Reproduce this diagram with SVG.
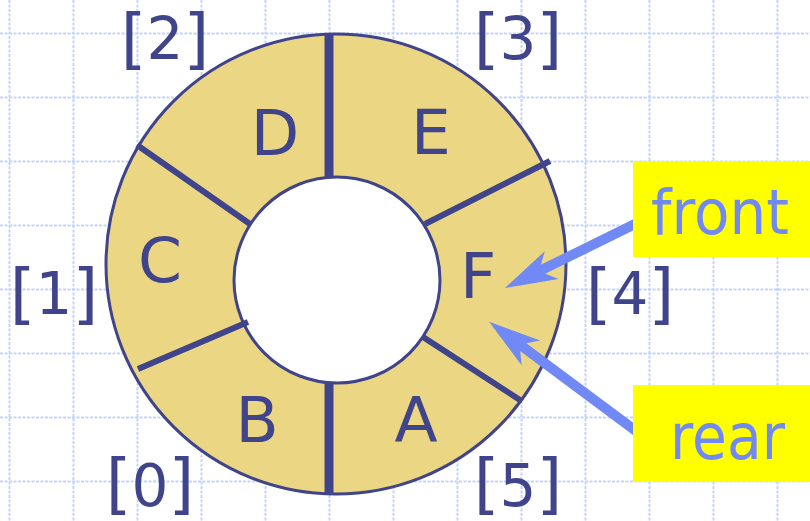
<svg xmlns="http://www.w3.org/2000/svg" width="810" height="521" viewBox="0 0 810 521">
  <defs>
    <style>
      .grid{fill:none;stroke:#c6d3fb;stroke-width:2;stroke-dasharray:3 1.5}
      .ring{fill:#ebd683;stroke:#40448a;stroke-width:3}
      .hole{fill:#ffffff;stroke:#40448a;stroke-width:3}
      .div{stroke:#40448a;stroke-width:6;stroke-linecap:butt}
      .divv{stroke:#40448a;stroke-width:9;stroke-linecap:butt}
      .cell{font-family:"DejaVu Sans","Verdana",sans-serif;font-size:63px;fill:#40448a;text-anchor:middle}
      .idx{font-family:"DejaVu Sans","Verdana",sans-serif;font-size:58px;fill:#40448a;text-anchor:middle}
      .br{font-size:66px}
      .box{fill:#ffff00}
      .ptr{font-family:"DejaVu Sans","Verdana",sans-serif;fill:#7089f5}
      .arrow{stroke:#7089f5;stroke-width:10;fill:none;marker-end:url(#head)}
    </style>
    <marker id="head" viewBox="-17 -16 54 32" markerWidth="54" markerHeight="32" refX="0" refY="0" orient="auto" markerUnits="userSpaceOnUse">
      <path d="M36,0 L-16,-15.5 L-2,0 L-16,15.5 Z" fill="#7089f5"/>
    </marker>
  </defs>

  <rect width="810" height="521" fill="#ffffff"/>
  <path class="grid" d="M9.5,0V521M73.5,0V521M137.5,0V521M201.5,0V521M265.5,0V521M329.5,0V521M393.5,0V521M457.5,0V521M521.5,0V521M585.5,0V521M649.5,0V521M713.5,0V521M777.5,0V521M0,33.5H810M0,97.5H810M0,161.5H810M0,225.5H810M0,289.5H810M0,353.5H810M0,417.5H810M0,481.5H810"/>

  <g id="ring">
    <circle class="ring" cx="336" cy="264" r="230"/>
    <circle class="hole" cx="337" cy="280" r="103"/>
    <line class="divv" x1="329" y1="34" x2="329" y2="178"/>
    <line class="divv" x1="329" y1="382" x2="329" y2="494"/>
    <line class="div" x1="137" y1="145" x2="250" y2="224"/>
    <line class="div" x1="138" y1="369" x2="248" y2="322"/>
    <line class="div" x1="550" y1="161" x2="425" y2="224"/>
    <line class="div" x1="520" y1="400" x2="423" y2="337"/>
  </g>

  <g id="cell-D"><text class="cell" x="275" y="155">D</text></g>
  <g id="cell-E"><text class="cell" x="431" y="154">E</text></g>
  <g id="cell-C"><text class="cell" x="160" y="282">C</text></g>
  <g id="cell-F"><text class="cell" x="478" y="298">F</text></g>
  <g id="cell-B"><text class="cell" x="257" y="442">B</text></g>
  <g id="cell-A"><text class="cell" x="416" y="442">A</text></g>

  <g id="index-2"><text class="idx" x="165" y="59"><tspan class="br" dy="2">[</tspan><tspan dy="-2">2</tspan><tspan class="br" dy="2">]</tspan></text></g>
  <g id="index-3"><text class="idx" x="518" y="59"><tspan class="br" dy="2">[</tspan><tspan dy="-2">3</tspan><tspan class="br" dy="2">]</tspan></text></g>
  <g id="index-1"><text class="idx" x="54" y="314"><tspan class="br" dy="2">[</tspan><tspan dy="-2">1</tspan><tspan class="br" dy="2">]</tspan></text></g>
  <g id="index-4"><text class="idx" x="630" y="314"><tspan class="br" dy="2">[</tspan><tspan dy="-2">4</tspan><tspan class="br" dy="2">]</tspan></text></g>
  <g id="index-0"><text class="idx" x="150" y="506"><tspan class="br">[</tspan><tspan>0</tspan><tspan class="br">]</tspan></text></g>
  <g id="index-5"><text class="idx" x="518" y="506"><tspan class="br">[</tspan><tspan>5</tspan><tspan class="br">]</tspan></text></g>

  <g id="connectors">
    <line class="arrow" x1="640" y1="221.6" x2="537.3" y2="272.1"/>
    <line class="arrow" x1="638" y1="432.4" x2="518" y2="343.3"/>
  </g>

  <g id="front">
    <rect class="box" x="633" y="161" width="177" height="96"/>
    <text class="ptr" x="651" y="234" font-size="62" textLength="138" lengthAdjust="spacingAndGlyphs">front</text>
  </g>
  <g id="rear">
    <rect class="box" x="633" y="385" width="177" height="97"/>
    <text class="ptr" x="670" y="459" font-size="64" textLength="115" lengthAdjust="spacingAndGlyphs">rear</text>
  </g>
</svg>
